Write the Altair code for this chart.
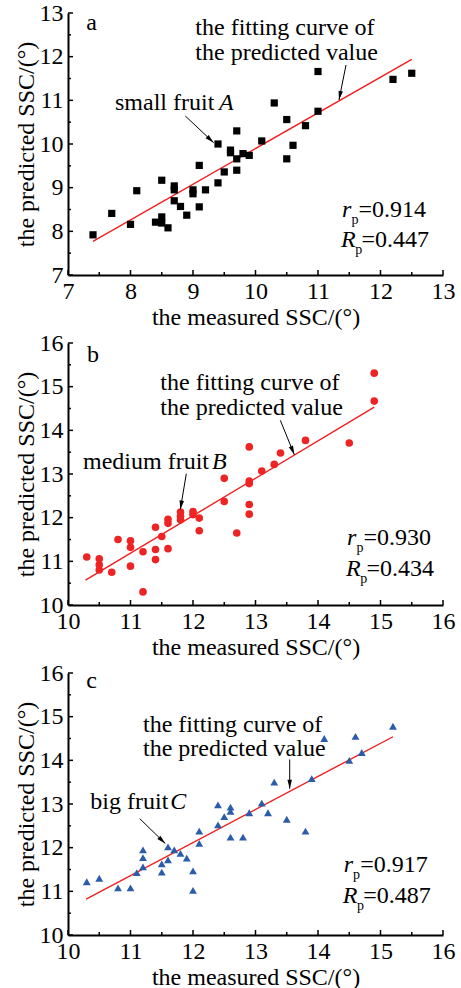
import math
import altair as alt
import pandas as pd

FONT = "'Liberation Serif', 'Times New Roman', Times, 'DejaVu Serif', serif"
FS = 24
W, H = 375, 262
SPACING = 68

# ---------------- data ----------------
a_measured = [7.4, 7.7, 8.0, 8.1, 8.4, 8.5, 8.5, 8.5, 8.6, 8.7, 8.7, 8.7, 8.8, 8.9, 9.0, 9.0, 9.1, 9.1, 9.2,
              9.4, 9.5, 9.6, 9.6, 9.7, 9.7, 9.8, 9.9, 10.5, 9.4, 9.7, 10.1, 10.3, 10.5, 10.6, 10.8, 11.0,
              11.0, 12.2, 12.5]
a_predicted = [7.92, 8.41, 8.16, 8.93, 8.21, 9.17, 8.33, 8.19, 8.08, 9.04, 8.95, 8.70, 8.57, 8.37, 8.95,
               8.86, 9.51, 8.56, 8.95, 9.11, 9.36, 9.86, 9.80, 9.40, 9.66, 9.78, 9.74, 9.66, 10.00, 10.30,
               10.07, 10.94, 10.56, 9.97, 10.42, 11.66, 10.75, 11.48, 11.62]

b_measured = [10.3, 10.5, 10.5, 10.5, 10.7, 10.8, 11.0, 11.0, 11.0, 11.2, 11.2, 11.4, 11.4, 11.4, 11.5,
              11.6, 11.6, 11.6, 11.8, 11.8, 11.8, 12.0, 12.0, 12.1, 12.1, 12.5, 12.5, 12.7, 12.9, 12.9,
              12.9, 12.9, 12.9, 13.1, 13.3, 13.4, 13.8, 14.5, 14.9, 14.9]
b_predicted = [11.10, 11.06, 10.92, 10.80, 10.75, 11.50, 11.47, 11.32, 10.89, 11.22, 10.30, 11.78, 11.27,
               11.04, 11.57, 11.96, 11.87, 11.29, 12.13, 12.03, 11.95, 12.14, 12.07, 11.99, 11.70, 12.37,
               12.90, 11.65, 12.84, 12.78, 12.30, 12.08, 13.62, 13.07, 13.22, 13.48, 13.77, 13.71, 15.31,
               14.67]

c_measured = [10.3, 10.5, 10.8, 11.0, 11.1, 11.2, 11.2, 11.2, 11.5, 11.5, 11.6, 11.6, 11.7, 11.8, 11.9,
              12.0, 12.0, 12.1, 12.1, 12.4, 12.5, 12.6, 12.6, 12.8, 12.9, 13.2, 13.5, 13.8, 12.4, 12.6,
              13.1, 13.3, 13.9, 14.1, 14.5, 14.6, 14.7, 15.2]
c_predicted = [11.22, 11.30, 11.08, 11.08, 11.43, 11.95, 11.77, 11.56, 11.63, 11.44, 12.02, 11.72, 11.95,
               11.87, 11.76, 11.47, 11.02, 12.38, 12.10, 12.52, 12.71, 12.83, 12.24, 12.24, 12.80, 12.80,
               12.65, 12.38, 12.98, 12.93, 13.02, 13.50, 13.58, 14.50, 14.00, 14.55, 14.18, 14.78]

# fitted lines: [x1, y1, x2, y2]
a_fit = [7.4, 7.77, 12.5, 11.94]
b_fit = [10.28, 10.57, 14.9, 14.53]
c_fit = [10.29, 10.82, 15.2, 14.54]

a_ticks = [7, 8, 9, 10, 11, 12, 13]
bc_ticks = [10, 11, 12, 13, 14, 15, 16]

x_title = "the measured SSC/(°)"
y_title = "the predicted SSC/(°)"
fit_text = ["the fitting curve of", "the predicted value"]

a_ann = dict(letter=("a", 7.29, 12.61), fit_xy=(9.037, 12.496, 11.924),
             arrow1=(11.448, 11.809, 11.336, 11.008),
             fruit=("small fruit ", "A", 7.752, 9.416, 10.779),
             arrow2=(8.877, 10.641, 9.331, 10.030),
             rp=(11.384, 8.335, 7.649, "=0.914", "=0.447"))
b_ann = dict(letter=("b", 10.304, 15.569), fit_xy=(11.477, 14.917, 14.360),
             arrow1=(13.397, 14.229, 13.621, 13.443),
             fruit=("medium fruit ", "B", 10.24, 12.304, 13.122),
             arrow2=(11.893, 13.007, 11.797, 12.188),
             rp=(14.464, 11.378, 10.674, "=0.930", "=0.434"))
c_ann = dict(letter=("c", 10.293, 15.657), fit_xy=(11.2, 14.643, 14.095),
             arrow1=(13.547, 14.020, 13.547, 13.350),
             fruit=("big fruit ", "C", 10.357, 11.637, 12.878),
             arrow2=(11.147, 12.665, 11.557, 12.094),
             rp=(14.411, 11.432, 10.724, "=0.917", "=0.487"))

ARROW_HEAD = "M0,0L-0.25,1L0.25,1Z"


def panel(measured, predicted, ticks, shape, color, size, fit, ann):
    lo, hi = ticks[0], ticks[-1]
    ux = W / (hi - lo)
    uy = H / (hi - lo)
    xs = alt.Scale(domain=[lo, hi], nice=False, zero=False)
    ys = alt.Scale(domain=[lo, hi], nice=False, zero=False)
    xa = alt.Axis(values=ticks, format="d", title=x_title, labelPadding=4, titlePadding=2)
    ya = alt.Axis(values=ticks, format="d", title=y_title, labelPadding=5, titlePadding=1)

    def X(f):
        return alt.X(f, type="quantitative", scale=xs, axis=xa)

    def Y(f):
        return alt.Y(f, type="quantitative", scale=ys, axis=ya)

    pts = pd.DataFrame({"m": measured, "p": predicted})
    points = alt.Chart(pts).mark_point(shape=shape, filled=True, color=color, size=size,
                                       opacity=1, strokeWidth=0).encode(x=X("m"), y=Y("p"))

    major = pd.DataFrame({"v": ticks})
    minor = pd.DataFrame({"v": [t + 0.5 for t in ticks[:-1]]})
    layers = []
    for df, ln in ((major, 5), (minor, 3)):
        layers.append(alt.Chart(df).mark_rule(color="black", strokeWidth=1.5).encode(
            x=X("v"), y=alt.value(H), y2=alt.value(H - ln)))
        layers.append(alt.Chart(df).mark_rule(color="black", strokeWidth=1.5).encode(
            y=Y("v"), x=alt.value(0), x2=alt.value(ln)))

    fitdf = pd.DataFrame({"x": [fit[0]], "y": [fit[1]], "x2": [fit[2]], "y2": [fit[3]]})
    fitline = alt.Chart(fitdf).mark_rule(color="#f01e1e", strokeWidth=1.4).encode(
        x=X("x"), y=Y("y"), x2="x2", y2="y2")

    # text annotations
    lx, ry, rY, rtxt, Rtxt = ann["rp"]
    ftx, fy1, fy2 = ann["fit_xy"]
    fplain, fital, fx, fix, fy = ann["fruit"]
    plain = pd.DataFrame({
        "x": [ann["letter"][1], ftx, ftx, fx, lx + 16.5 / ux, lx + 19.5 / ux],
        "y": [ann["letter"][2], fy1, fy2, fy, ry, rY],
        "t": [ann["letter"][0], fit_text[0], fit_text[1], fplain, rtxt, Rtxt],
    })
    ital = pd.DataFrame({
        "x": [fix, lx, lx - 1 / ux],
        "y": [fy, ry, rY],
        "t": [fital, "r", "R"],
    })
    subs = pd.DataFrame({
        "x": [lx + 9.4 / ux, lx + 13.2 / ux],
        "y": [ry - 7 / uy, rY - 7 / uy],
        "t": ["p", "p"],
    })
    t_plain = alt.Chart(plain).mark_text(align="left", baseline="alphabetic", font=FONT,
                                         fontSize=FS, color="black").encode(
        x=X("x"), y=Y("y"), text="t:N")
    t_ital = alt.Chart(ital).mark_text(align="left", baseline="alphabetic", font=FONT,
                                       fontSize=FS, fontStyle="italic", color="black").encode(
        x=X("x"), y=Y("y"), text="t:N")
    t_sub = alt.Chart(subs).mark_text(align="left", baseline="alphabetic", font=FONT,
                                      fontSize=14, color="black").encode(
        x=X("x"), y=Y("y"), text="t:N")

    arrows = [ann["arrow1"], ann["arrow2"]]
    adf = pd.DataFrame({"x": [a[0] for a in arrows], "y": [a[1] for a in arrows],
                        "x2": [a[2] for a in arrows], "y2": [a[3] for a in arrows]})
    angs = []
    for a in arrows:
        dxp = (a[2] - a[0]) * ux
        dyp = -(a[3] - a[1]) * uy
        angs.append((math.degrees(math.atan2(dxp, -dyp)) + 360) % 360)
    hdf = pd.DataFrame({"x": [a[2] for a in arrows], "y": [a[3] for a in arrows], "ang": angs})
    arrow_lines = alt.Chart(adf).mark_rule(color="black", strokeWidth=1).encode(
        x=X("x"), y=Y("y"), x2="x2", y2="y2")
    arrow_heads = alt.Chart(hdf).mark_point(shape=ARROW_HEAD, filled=True, color="black",
                                            size=324, opacity=1, strokeWidth=0).encode(
        x=X("x"), y=Y("y"), angle=alt.Angle("ang:Q", scale=None))

    return alt.layer(*layers, fitline, points, t_plain, t_ital, t_sub, arrow_lines, arrow_heads
                     ).properties(width=W, height=H)


pa = panel(a_measured, a_predicted, a_ticks, "square", "black", 52, a_fit, a_ann)
pb = panel(b_measured, b_predicted, bc_ticks, "circle", "#ee2424", 58, b_fit, b_ann)
pc = panel(c_measured, c_predicted, bc_ticks, "triangle-up", "#2b5caa", 62, c_fit, c_ann)

chart = alt.vconcat(pa, pb, pc, spacing=SPACING, bounds="flush").properties(
    padding={"left": 14, "top": 1, "right": 5, "bottom": 5},
    background="white",
).configure_view(stroke=None).configure_axis(
    grid=False, ticks=False, tickSize=0, domainColor="black", domainWidth=2,
    labelFont=FONT, labelFontSize=FS, labelColor="black", labelFlush=False, labelOverlap=False,
    titleFont=FONT, titleFontSize=FS, titleFontWeight="normal", titleColor="black",
)

chart.save("out.html", embed_options={"renderer": "svg", "actions": False})
